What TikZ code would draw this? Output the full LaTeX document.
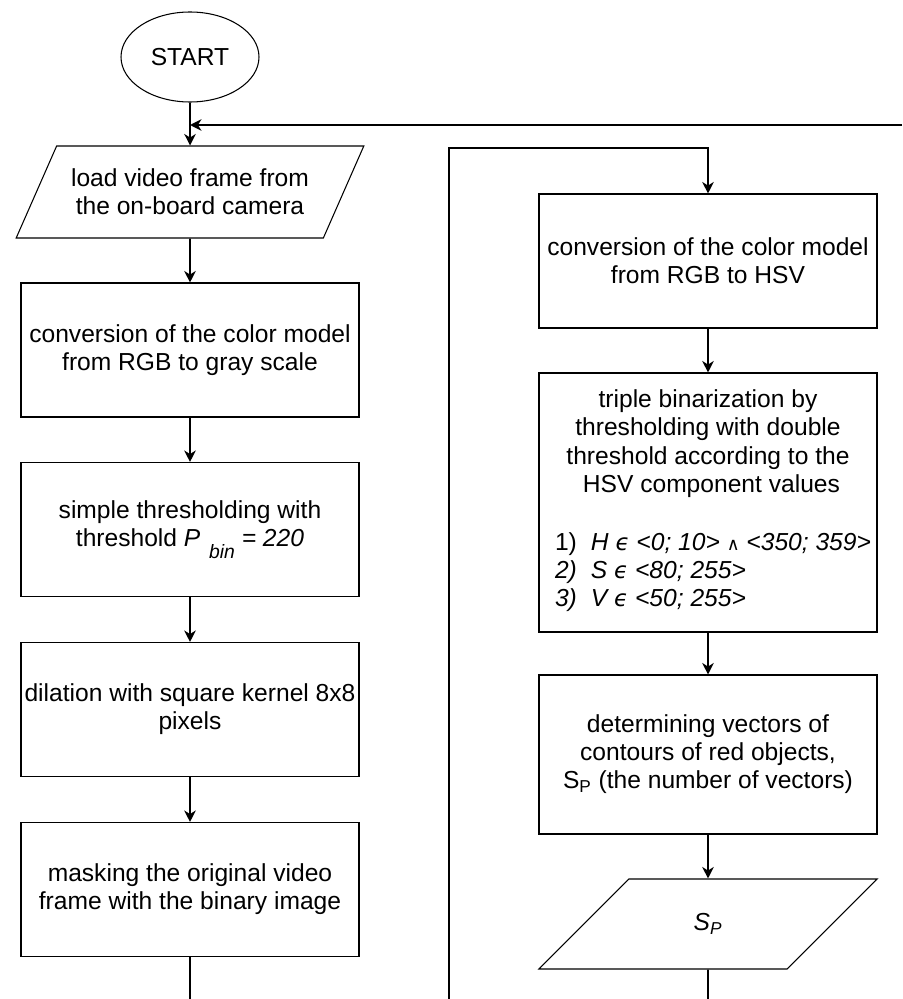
\documentclass[tikz,border=0pt]{standalone}
\usepackage{fontspec}
\setmainfont{Liberation Sans}
\newfontfamily\symfont{DejaVu Sans}
\usepackage{tikz}
\usetikzlibrary{arrows.meta,calc,positioning,shapes.geometric}

\begin{document}
\begin{tikzpicture}[>={Stealth[length=6.5pt,width=6.5pt,inset=2pt]},
  font=\fontsize{14}{16}\selectfont,
  procbox/.style={draw,line width=0.6pt,minimum width=6.76cm,minimum height=2.68cm,align=center,inner sep=2pt},
  iobox/.style={draw,line width=0.6pt,trapezium,trapezium left angle=52,trapezium right angle=128,trapezium stretches=true,align=center,inner sep=0pt},
  conn/.style={->,line width=1.1pt}]
  \useasboundingbox (0,0) rectangle (18.04,-19.98);
  % left column
  \node[draw,line width=0.6pt,ellipse,minimum width=2.76cm,minimum height=1.8cm,inner sep=0pt] (start) at (3.8,-1.14) {START};
  \node[iobox,minimum width=6.96cm,minimum height=1.84cm] (load) at (3.8,-3.84) {load video frame from\\the on-board camera};
  \node[procbox] (gray) at (3.8,-7.0) {conversion of the color model\\from RGB to gray scale};
  \node[procbox] (thr) at (3.8,-10.59) {simple thresholding with\\threshold \textit{P}\hspace{5pt}\raisebox{-7pt}{\fontsize{11}{11}\selectfont\textit{bin}} \textit{= 220}};
  \node[procbox] (dil) at (3.8,-14.19) {dilation with square kernel 8x8\\pixels};
  \node[procbox] (mask) at (3.8,-17.79) {masking the original video\\frame with the binary image};
  % right column
  \node[procbox] (hsv) at (14.16,-5.22) {conversion of the color model\\from RGB to HSV};
  \node[procbox,minimum height=5.18cm,inner sep=0pt] (tri) at (14.16,-10.05) {triple binarization by\\thresholding with double\\threshold according to the\\\ HSV component values\\[18pt]
    \hspace{0.2cm}\begin{tabular}{@{}l@{}}
      1)\hspace{8pt}\textit{H {\symfont\fontsize{13}{16}\selectfont ϵ} <0; 10> {\symfont\fontsize{10}{16}\selectfont ∧} <350; 359>}\\
      \textit{2)\hspace{8pt}S {\symfont\fontsize{13}{16}\selectfont ϵ} <80; 255>}\\
      \textit{3)\hspace{8pt}V {\symfont\fontsize{13}{16}\selectfont ϵ} <50; 255>}
    \end{tabular}};
  \node[procbox,minimum height=3.18cm] (cont) at (14.16,-15.09) {determining vectors of\\contours of red objects,\\S\textsubscript{P} (the number of vectors)};
  \node[iobox,minimum width=6.78cm,minimum height=1.8cm] (sp) at (14.16,-18.48) {\textit{S\textsubscript{P}}};
  % loose ends
  \coordinate (fbin) at (18.04,-2.5);
  \coordinate (rtop) at (8.98,-2.96);
  \coordinate (rbot) at (8.98,-19.98);
  \coordinate (lbot) at (3.8,-19.98);
  \coordinate (spbot) at (14.16,-19.98);
  % connectors
  \draw[conn] (start.south) -- (load.north);
  \draw[conn] (fbin) -- (start.south |- fbin);
  \foreach \a/\b in {load/gray,gray/thr,thr/dil,dil/mask,hsv/tri,tri/cont,cont/sp}
    \draw[conn] (\a.south) -- (\b.north);
  \draw[line width=1.1pt] (mask.south) -- (lbot);
  \draw[conn] (rbot) -- (rtop) -| (hsv.north);
  \draw[line width=1.1pt] (sp.south) -- (spbot);
\end{tikzpicture}
\end{document}
